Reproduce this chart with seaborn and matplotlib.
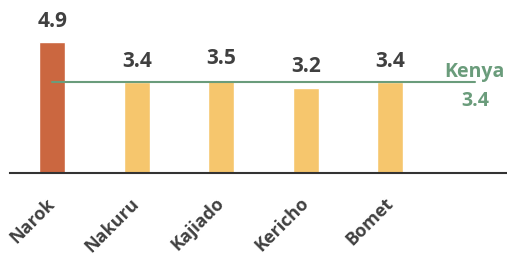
import matplotlib
matplotlib.use("Agg")
import matplotlib.pyplot as plt
import seaborn as sns
import pandas as pd

# ── Data ──────────────────────────────────────────────
counties = ["Narok", "Nakuru", "Kajiado", "Kericho", "Bomet"]
values = [4.9, 3.4, 3.5, 3.2, 3.4]
bar_colours = ["#CB6740", "#F6C66D", "#F6C66D", "#F6C66D", "#F6C66D"]
kenya_label = "Kenya"
kenya_value = 3.4

sns.set_theme(style="white")
plt.rcParams["font.family"] = ["Open Sans", "DejaVu Sans"]

df = pd.DataFrame({"County": counties, "Value": values})

fig = plt.figure(figsize=(5.07, 2.57), dpi=100)
ax = fig.add_axes([10 / 507, 84 / 257, 497 / 507, 173 / 257])

sns.barplot(data=df, x="County", y="Value", hue="County",
            palette=dict(zip(counties, bar_colours)), width=0.31,
            saturation=1, legend=False, ax=ax)

ax.set_xlim(-0.5, -0.5 + 497 / 84.5)
ax.set_ylim(0, 173 / 26.7)

# value labels
text_col = "#404040"
for i, v in enumerate(values):
    ax.annotate(f"{v}", (i, v), xytext=(0, 11), textcoords="offset points",
                ha="center", va="baseline", fontsize=15, fontweight="bold",
                color=text_col)

# national average line
green = "#6A9C7B"
ax.plot([0, len(counties)], [kenya_value, kenya_value], color=green, lw=1.5)
ax.annotate(kenya_label, (len(counties), kenya_value), xytext=(0, 4),
            textcoords="offset points", ha="center", va="baseline",
            fontsize=14, fontweight="bold", color=green)
ax.annotate(f"{kenya_value}", (len(counties), kenya_value), xytext=(0, -17),
            textcoords="offset points", ha="center", va="baseline",
            fontsize=14, fontweight="bold", color=green)

# axes styling
sns.despine(ax=ax, left=True)
ax.spines["bottom"].set_color("#333333")
ax.spines["bottom"].set_linewidth(1.5)
ax.set_yticks([])
ax.set_xlabel("")
ax.set_ylabel("")
ax.tick_params(axis="x", length=0, pad=20)
for lbl in ax.get_xticklabels():
    lbl.set_rotation(45)
    lbl.set_ha("right")
    lbl.set_va("center")
    lbl.set_rotation_mode("anchor")
    lbl.set_fontsize(13)
    lbl.set_fontweight("bold")
    lbl.set_color(text_col)

fig.savefig("out.png", dpi=100)
